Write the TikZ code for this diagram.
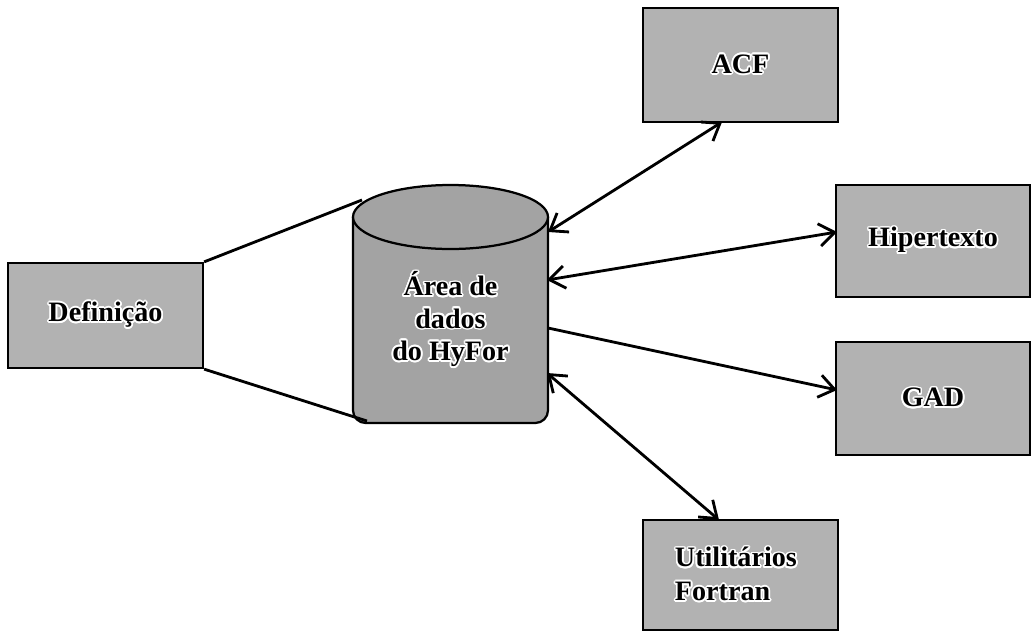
\documentclass[tikz,border=0pt]{standalone}
\usepackage{fontspec}
\setmainfont{Liberation Serif}
\usepackage{contour}
\usepackage{tikz}
\usetikzlibrary{positioning, arrows.meta}
\contourlength{1.2pt}
\tikzset{
    modbox/.style={draw=black, line width=1.6pt, fill=gray!60, inner sep=0pt,
        font=\fontsize{20}{24}\selectfont\bfseries},
    link/.style={line width=2pt, {Straight Barb[length=11pt,width=16pt]}-{Straight Barb[length=11pt,width=16pt]}},
    onelink/.style={line width=2pt, -{Straight Barb[length=11pt,width=16pt]}},
    plain/.style={line width=2pt}
}
\newcommand{\lbl}[1]{\contour{white}{#1}}
\begin{document}
\begin{tikzpicture}[x=0.025cm, y=-0.025cm]
    \useasboundingbox (0,0) rectangle (1032,632);

    % boxes
    \node[modbox, minimum width=195*0.025cm, minimum height=105*0.025cm] (def) at (105.5,315.5) {\lbl{Definição}};
    \node[modbox, minimum width=195*0.025cm, minimum height=114*0.025cm] (acf) at (740.5,65) {\lbl{ACF}};
    \node[modbox, minimum width=194*0.025cm, minimum height=112*0.025cm] (hip) at (933,241) {\lbl{Hipertexto}};
    \node[modbox, minimum width=194*0.025cm, minimum height=113*0.025cm] (gad) at (933,398.5) {\lbl{GAD}};
    \node[modbox, minimum width=195*0.025cm, minimum height=110*0.025cm] (fort) at (740.5,575) {};
    \node[font=\fontsize{20}{24}\selectfont\bfseries, align=left, anchor=west] (fortlbl) at (670,575)
        {\lbl{Utilitários}\\\lbl{Fortran}};

    % cylinder
    \fill[gray!72] (353,217) [rounded corners=9pt] -- (353,423) -- (548,423) -- (548,217);
    \draw[line width=1.6pt] (353,217) [rounded corners=9pt] -- (353,423) -- (548,423) -- (548,217);
    \draw[line width=1.6pt, fill=gray!72] (450.5,217) ellipse [x radius=97.5, y radius=32];
    \node[font=\fontsize{20}{23}\selectfont\bfseries, align=center] (area) at (450.5,320)
        {\lbl{Área de}\\\lbl{dados}\\\lbl{do HyFor}};

    % ends on the cylinder
    \coordinate (cyltop) at (362,200);
    \coordinate (cylbot) at (367,421);
    \coordinate (cylacf) at (548,232);
    \coordinate (cylhip) at (547,280);
    \coordinate (cylgad) at (548,328);
    \coordinate (cylfort) at (547,373);
    \coordinate (acfend) at (722,122);
    \coordinate (hipend) at (837,232);
    \coordinate (gadend) at (837,390);
    \coordinate (fortend) at (719,520);

    % connectors
    \draw[plain] (def.north east) -- (cyltop);
    \draw[plain] (def.south east) -- (cylbot);
    \draw[link] (cylacf) -- (acfend);
    \draw[link] (cylhip) -- (hipend);
    \draw[onelink] (cylgad) -- (gadend);
    \draw[link] (cylfort) -- (fortend);
\end{tikzpicture}
\end{document}
